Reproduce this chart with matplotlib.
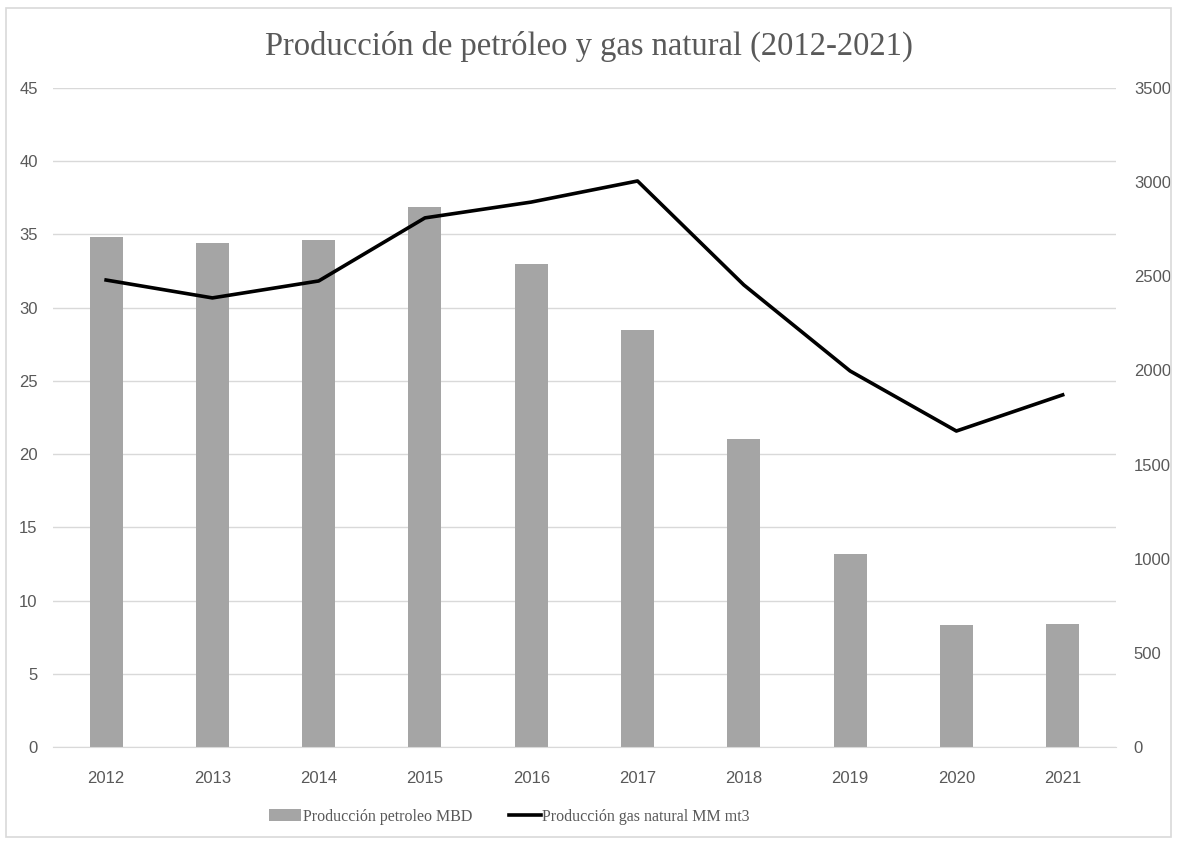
import matplotlib.pyplot as plt
from matplotlib.patches import Rectangle, Patch
from matplotlib.lines import Line2D

anios = ["2012", "2013", "2014", "2015", "2016", "2017", "2018", "2019", "2020", "2021"]
petroleo = [34.8, 34.4, 34.6, 36.9, 33.0, 28.5, 21.0, 13.2, 8.3, 8.4]
gas = [2480, 2385, 2475, 2810, 2894, 3006, 2454, 1997, 1678, 1870]

izq_ticks = [0, 5, 10, 15, 20, 25, 30, 35, 40, 45]
der_ticks = [0, 500, 1000, 1500, 2000, 2500, 3000, 3500]

gris_texto = "#595959"
gris_grid = "#D9D9D9"

fig = plt.figure(figsize=(11.77, 8.41), dpi=100)
fig.patches.append(Rectangle((0.005, 0.005), 0.99, 0.985, transform=fig.transFigure,
                             fill=False, edgecolor=gris_grid, linewidth=1.2))
ax = fig.add_axes([0.045, 0.1118, 0.903, 0.7836])
x = list(range(len(anios)))

ax.bar(x, petroleo, width=0.31, color="#A5A5A5", zorder=2)
ax.set_ylim(0, 45)
ax.set_xlim(-0.5, len(anios) - 0.5)
ax.set_yticks(izq_ticks)
ax.set_xticks(x)
ax.set_xticklabels(anios)
ax.grid(axis="y", color=gris_grid, linewidth=1, zorder=0)
ax.set_axisbelow(True)
for s in ["top", "right", "left"]:
    ax.spines[s].set_visible(False)
ax.spines["bottom"].set_color(gris_grid)
ax.tick_params(length=0, colors=gris_texto, labelsize=12)
ax.tick_params(axis="x", pad=17)
ax.tick_params(axis="y", pad=11)
for lab in ax.get_xticklabels() + ax.get_yticklabels():
    lab.set_family("Liberation Sans")

ax2 = ax.twinx()
ax2.plot(x, gas, color="black", linewidth=2.6, zorder=3)
ax2.set_ylim(0, 3500)
ax2.set_yticks(der_ticks)
for s in ["top", "right", "left", "bottom"]:
    ax2.spines[s].set_visible(False)
ax2.tick_params(length=0, colors=gris_texto, labelsize=12, pad=13)
for lab in ax2.get_yticklabels():
    lab.set_family("Liberation Sans")

fig.text(0.5, 0.945, "Producción de petróleo y gas natural (2012-2021)", ha="center", va="center",
         family="Liberation Serif", fontsize=23.5, color=gris_texto)

handles = [Patch(facecolor="#A5A5A5", edgecolor="none"),
           Line2D([0], [0], color="black", linewidth=2.6)]
fig.legend(handles, ["Producción petroleo MBD", "Producción gas natural MM mt3"],
           loc="center", bbox_to_anchor=(0.433, 0.029), ncol=2, frameon=False,
           prop={"family": "Liberation Serif", "size": 11.5}, labelcolor=gris_texto,
           handlelength=2.0, handletextpad=0.1, columnspacing=2.3)

plt.savefig("out.png", dpi=100)
